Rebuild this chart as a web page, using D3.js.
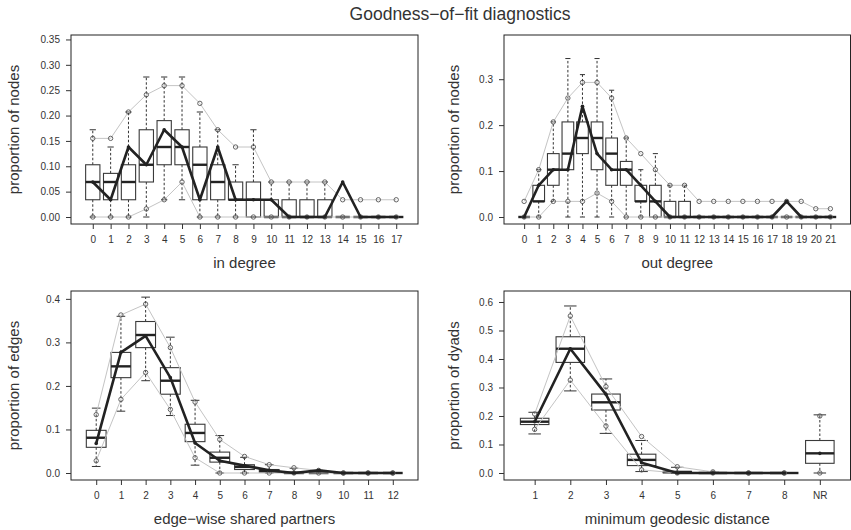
<!DOCTYPE html>
<html>
<head>
<meta charset="utf-8">
<script src="https://cdn.jsdelivr.net/npm/d3@7"></script>
<style>
  body { margin: 0; background: #fff; }
  svg text { font-family: "Liberation Sans", Arial, Helvetica, sans-serif; fill: #333; }
</style>
</head>
<body>
<div id="chart"></div>
<script>
// ---- in degree (0..17)
const idegLabels = ["0","1","2","3","4","5","6","7","8","9","10","11","12","13","14","15","16","17"];
const idegQ1  = [0.034,0.034,0.034,0.069,0.103,0.103,0.034,0.034,0.034,0,0,0,0,0,0,0,0,0];
const idegMed = [0.069,0.069,0.069,0.103,0.138,0.138,0.103,0.069,0.034,0.034,0,0,0,0,0,0,0,0];
const idegQ3  = [0.103,0.086,0.103,0.172,0.190,0.172,0.138,0.103,0.069,0.069,0.034,0.034,0.034,0.034,0,0,0,0];
const idegLo  = [0,0,0,0,0.034,0.034,0,0,0,0,0,0,0,0,0,0,0,0];
const idegHi  = [0.172,0.138,0.207,0.276,0.276,0.276,0.207,0.172,0.103,0.172,0.069,0.069,0.069,0.069,0,0,0,0];
const idegBandLo = [0,0,0,0.016,0.034,0.069,0,0,0,0,0,0,0,0,0,0,0,0];
const idegBandHi = [0.155,0.155,0.207,0.241,0.259,0.259,0.224,0.172,0.138,0.138,0.069,0.069,0.069,0.069,0.034,0.034,0.034,0.034];
const idegObs = [0.069,0.034,0.138,0.103,0.172,0.138,0.034,0.138,0.034,0.034,0.034,0,0,0,0.069,0,0,0];

// ---- out degree (0..21)
const odegLabels = ["0","1","2","3","4","5","6","7","8","9","10","11","12","13","14","15","16","17","18","19","20","21"];
const odegQ1  = [0,0.034,0.069,0.103,0.138,0.103,0.069,0.069,0.034,0,0,0,0,0,0,0,0,0,0,0,0,0];
const odegMed = [0,0.034,0.103,0.138,0.172,0.172,0.138,0.103,0.034,0.034,0,0,0,0,0,0,0,0,0,0,0,0];
const odegQ3  = [0,0.069,0.138,0.207,0.207,0.207,0.172,0.121,0.069,0.069,0.034,0.034,0,0,0,0,0,0,0,0,0,0];
const odegLo  = [0,0,0.034,0,0,0,0,0,0,0,0,0,0,0,0,0,0,0,0,0,0,0];
const odegHi  = [0,0.103,0.207,0.345,0.310,0.345,0.276,0.172,0.103,0.138,0.069,0.069,0,0,0,0,0,0,0,0,0,0];
const odegBandLo = [0,0,0.034,0.034,0.034,0.052,0.034,0,0,0,0,0,0,0,0,0,0,0,0,0,0,0];
const odegBandHi = [0.034,0.103,0.207,0.259,0.293,0.293,0.259,0.172,0.138,0.103,0.069,0.069,0.034,0.034,0.034,0.034,0.034,0.034,0.034,0.034,0.018,0.018];
const odegObs = [0,0.069,0.103,0.103,0.241,0.138,0.103,0.103,0.069,0.034,0,0,0,0,0,0,0,0,0.034,0,0,0];

// ---- edge-wise shared partners (0..12)
const espLabels = ["0","1","2","3","4","5","6","7","8","9","10","11","12"];
const espQ1  = [0.059,0.219,0.288,0.181,0.072,0.025,0.008,0.002,0,0,0,0,0];
const espMed = [0.081,0.245,0.317,0.212,0.092,0.035,0.014,0.005,0,0,0,0,0];
const espQ3  = [0.098,0.277,0.348,0.242,0.112,0.048,0.019,0.008,0.002,0,0,0,0];
const espLo  = [0.015,0.142,0.212,0.132,0.018,0,0,0,0,0,0,0,0];
const espHi  = [0.149,0.360,0.404,0.312,0.167,0.086,0.036,0.019,0.011,0.006,0,0,0];
const espBandLo = [0.028,0.169,0.231,0.146,0.035,0,0,0,0,0,0,0,0];
const espBandHi = [0.134,0.363,0.388,0.288,0.163,0.077,0.038,0.019,0.012,0.006,0,0,0];
const espObs = [0.068,0.277,0.315,0.219,0.069,0.028,0.017,0.006,0,0.006,0,0,0];

// ---- minimum geodesic distance (1..8, NR)
const distLabels = ["1","2","3","4","5","6","7","8","NR"];
const distQ1  = [0.170,0.388,0.221,0.026,0.001,0,0,0,0.034];
const distMed = [0.180,0.436,0.248,0.046,0.003,0,0,0,0.069];
const distQ3  = [0.192,0.478,0.277,0.066,0.006,0.001,0,0,0.114];
const distLo  = [0.137,0.288,0.139,0.005,0,0,0,0,0];
const distHi  = [0.213,0.586,0.330,0.114,0.020,0.003,0,0,0.204];
const distBandLo = [0.153,0.326,0.165,0.011,0,0,0,0,0];
const distBandHi = [0.207,0.551,0.303,0.128,0.022,0.004,0,0,0.200];
const distObs = [0.180,0.436,0.276,0.036,0,0,0,0,0.069];

// y ranges and tick values
const idegYlim = [0, 0.345], idegTicks = [0,0.05,0.10,0.15,0.20,0.25,0.30,0.35];
const odegYlim = [0, 0.381], odegTicks = [0,0.1,0.2,0.3];
const espYlim  = [0, 0.402], espTicks  = [0,0.1,0.2,0.3,0.4];
const distYlim = [0, 0.614], distTicks = [0,0.1,0.2,0.3,0.4,0.5,0.6];

const W = 851, H = 530;
const svg = d3.select("#chart").append("svg")
  .attr("width", W).attr("height", H);

svg.append("text")
  .attr("x", 460).attr("y", 19.5)
  .attr("text-anchor", "middle")
  .style("font-size", "17.5px")
  .text("Goodness\u2212of\u2212fit diagnostics");

const panels = [
  { box: [71, 35, 418, 224], labels: idegLabels, q1: idegQ1, med: idegMed, q3: idegQ3, lo: idegLo, hi: idegHi,
    bLo: idegBandLo, bHi: idegBandHi, obs: idegObs, ylim: idegYlim, ticks: idegTicks, fmt: ".2f",
    xtitle: "in degree", ytitle: "proportion of nodes", yoff: 57.5, dropLast: false },
  { box: [504, 35, 850.5, 224], labels: odegLabels, q1: odegQ1, med: odegMed, q3: odegQ3, lo: odegLo, hi: odegHi,
    bLo: odegBandLo, bHi: odegBandHi, obs: odegObs, ylim: odegYlim, ticks: odegTicks, fmt: ".1f",
    xtitle: "out degree", ytitle: "proportion of nodes", yoff: 50, dropLast: false },
  { box: [71, 291, 418, 480], labels: espLabels, q1: espQ1, med: espMed, q3: espQ3, lo: espLo, hi: espHi,
    bLo: espBandLo, bHi: espBandHi, obs: espObs, ylim: espYlim, ticks: espTicks, fmt: ".1f",
    xtitle: "edge\u2212wise shared partners", ytitle: "proportion of edges", yoff: 57, dropLast: false },
  { box: [504, 291, 850.5, 480], labels: distLabels, q1: distQ1, med: distMed, q3: distQ3, lo: distLo, hi: distHi,
    bLo: distBandLo, bHi: distBandHi, obs: distObs, ylim: distYlim, ticks: distTicks, fmt: ".1f",
    xtitle: "minimum geodesic distance", ytitle: "proportion of dyads", yoff: 50.5, dropLast: true }
];

panels.forEach(function(p) {
  const [x0, y0, x1, y1] = p.box;
  const n = p.labels.length;
  const ext = 0.04 * n;
  const x = d3.scaleLinear().domain([0.5 - ext, n + 0.5 + ext]).range([x0, x1]);
  const r = p.ylim[1] - p.ylim[0];
  const y = d3.scaleLinear().domain([p.ylim[0] - 0.04 * r, p.ylim[1] + 0.04 * r]).range([y1, y0]);
  const step = x(2) - x(1);
  const bw = step * 0.8, cw = step * 0.35;
  const pos = d3.range(1, n + 1);

  const g = svg.append("g");

  // whiskers
  const wk = g.append("g").attr("stroke", "#333").attr("stroke-width", 1).attr("fill", "none");
  pos.forEach(function(k, i) {
    if (p.hi[i] > p.q3[i]) {
      wk.append("line").attr("x1", x(k)).attr("x2", x(k))
        .attr("y1", y(p.q3[i])).attr("y2", y(p.hi[i])).attr("stroke-dasharray", "2.5,2");
    }
    if (p.lo[i] < p.q1[i]) {
      wk.append("line").attr("x1", x(k)).attr("x2", x(k))
        .attr("y1", y(p.q1[i])).attr("y2", y(p.lo[i])).attr("stroke-dasharray", "2.5,2");
    }
    wk.append("line").attr("x1", x(k) - cw / 2).attr("x2", x(k) + cw / 2)
      .attr("y1", y(p.hi[i])).attr("y2", y(p.hi[i]));
    wk.append("line").attr("x1", x(k) - cw / 2).attr("x2", x(k) + cw / 2)
      .attr("y1", y(p.lo[i])).attr("y2", y(p.lo[i]));
  });

  // boxes
  g.selectAll("rect.bx").data(pos).enter().append("rect")
    .attr("x", d => x(d) - bw / 2)
    .attr("width", bw)
    .attr("y", (d, i) => y(p.q3[i]))
    .attr("height", (d, i) => y(p.q1[i]) - y(p.q3[i]))
    .attr("fill", "none").attr("stroke", "#3a3a3a").attr("stroke-width", 1.1);

  g.selectAll("line.md").data(pos).enter().append("line")
    .attr("x1", d => x(d) - bw / 2).attr("x2", d => x(d) + bw / 2)
    .attr("y1", (d, i) => y(p.med[i])).attr("y2", (d, i) => y(p.med[i]))
    .attr("stroke", "#222").attr("stroke-width", 2.4);

  // frame
  g.append("rect").attr("x", x0).attr("y", y0).attr("width", x1 - x0).attr("height", y1 - y0)
    .attr("fill", "none").attr("stroke", "#222").attr("stroke-width", 1);

  // axes
  const ya = g.append("g").attr("transform", "translate(" + x0 + ",0)")
    .call(d3.axisLeft(y).tickValues(p.ticks).tickFormat(d3.format(p.fmt)).tickSize(5).tickPadding(6));
  ya.select(".domain").remove();
  ya.selectAll("text").style("font-size", "10px").attr("fill", "#555");
  ya.selectAll("line").attr("stroke", "#333");

  const xa = g.append("g").attr("transform", "translate(0," + y1 + ")")
    .call(d3.axisBottom(x).tickValues(pos).tickFormat((d, i) => p.labels[i]).tickSize(5).tickPadding(7));
  xa.select(".domain").remove();
  xa.selectAll("text").style("font-size", "10px").attr("fill", "#555");
  xa.selectAll("line").attr("stroke", "#333");

  // titles
  g.append("text").attr("x", (x0 + x1) / 2).attr("y", y1 + 44)
    .attr("text-anchor", "middle").style("font-size", "15px").text(p.xtitle);
  g.append("text")
    .attr("transform", "translate(" + (x0 - p.yoff + 5) + "," + ((y0 + y1) / 2) + ") rotate(-90)")
    .attr("text-anchor", "middle").style("font-size", "15px").text(p.ytitle);

  // simulation bands and observed
  const linePos = p.dropLast ? pos.slice(0, n - 1) : pos;
  const ln = d3.line().x(d => x(d[0])).y(d => y(d[1]));
  [p.bLo, p.bHi].forEach(function(band) {
    g.append("path").datum(linePos.map((k, i) => [k, band[i]]))
      .attr("d", ln).attr("fill", "none").attr("stroke", "#c4c4c4").attr("stroke-width", 1);
  });
  [p.bLo, p.bHi].forEach(function(band) {
    g.selectAll(null).data(pos).enter().append("circle")
      .attr("cx", d => x(d)).attr("cy", (d, i) => y(band[i])).attr("r", 2.2)
      .attr("fill", "none").attr("stroke", "#555").attr("stroke-width", 0.9);
  });
  g.append("path").datum(linePos.map((k, i) => [k, p.obs[i]]))
    .attr("d", ln).attr("fill", "none").attr("stroke", "#222").attr("stroke-width", 2.6)
    .attr("stroke-linejoin", "round");
  g.selectAll(null).data(pos).enter().append("circle")
    .attr("cx", d => x(d)).attr("cy", (d, i) => y(p.obs[i])).attr("r", 1.8)
    .attr("fill", "#222");
});
</script>
</body>
</html>
